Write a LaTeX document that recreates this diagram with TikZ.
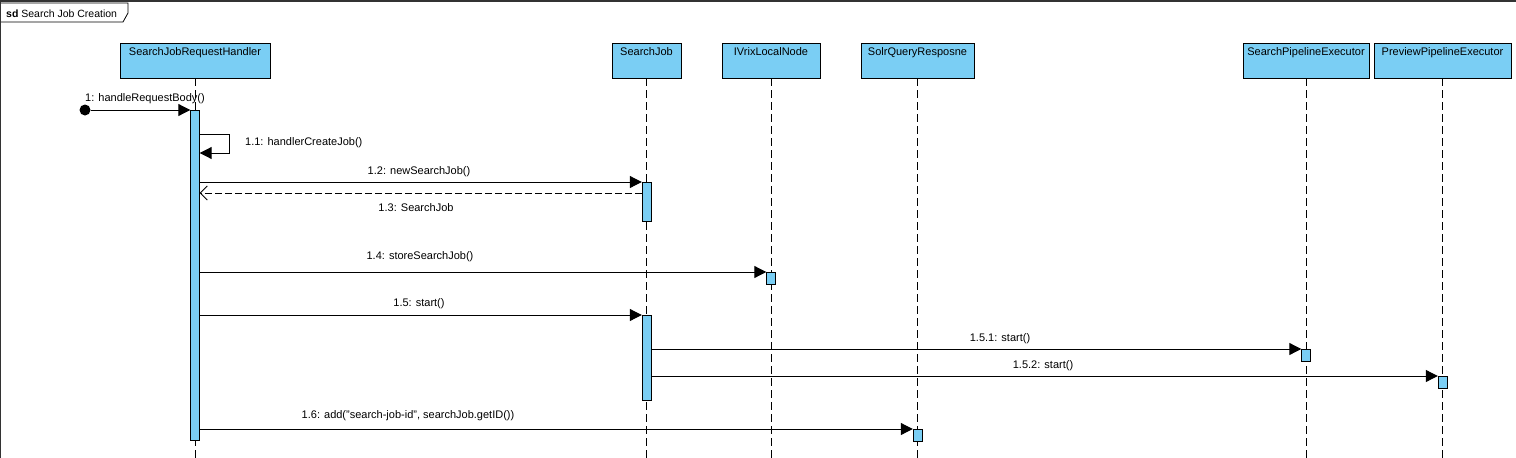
\documentclass[tikz,border=0pt]{standalone}
\usepackage{fontspec}
\setmainfont{Liberation Sans}
\usepackage{tikz}
\usetikzlibrary{arrows.meta}
\usetikzlibrary{calc}
\definecolor{lifeblue}{RGB}{122,206,244}
\tikzstyle{headblock} = [rectangle, draw, fill=lifeblue, anchor=north,
    minimum height=35pt, inner xsep=0pt, inner ysep=3pt, text height=9pt, text depth=20pt]
\tikzstyle{actblock} = [rectangle, draw, fill=lifeblue, anchor=north, minimum width=9pt, inner sep=0pt]
\tikzstyle{lifeline} = [dash pattern=on 8pt off 4pt, line width=0.8pt]
\tikzstyle{msg} = [-{Triangle[length=12pt,width=12pt]}, line width=1pt]
\tikzstyle{reply} = [-{Straight Barb[length=7pt,width=14pt]}, dash pattern=on 7pt off 3pt, line width=0.8pt]
\tikzstyle{msglabel} = [inner sep=0pt, anchor=base]

\begin{document}
\begin{tikzpicture}[x=1pt, y=-1pt, font=\fontsize{11}{13}\selectfont]
    \useasboundingbox (0,0) rectangle (1516,458);
    \coordinate (bottom) at (0,458);
    % frame
    \draw [line width=1.2pt, black!80] (0.6,458) -- (0.6,1) -- (1516,1);
    \draw [line width=0.8pt] (1,3) -- (128,3) -- (128,13) -- (123,22) -- (1,22);
    \node [anchor=base west, inner sep=0pt, font=\fontsize{10.5}{12}\selectfont] (frametab) at (6,17) {\textbf{sd} Search Job Creation};
    % lifeline heads
    \node [headblock, minimum width=150pt] (handler) at (195,43) {SearchJobRequestHandler};
    \node [headblock, minimum width=69pt] (searchjob) at (646.5,43) {SearchJob};
    \node [headblock, minimum width=98pt] (ivrix) at (771,43) {IVrixLocalNode};
    \node [headblock, minimum width=113pt] (solr) at (917.5,43) {SolrQueryResposne};
    \node [headblock, minimum width=126pt] (spe) at (1306,43) {SearchPipelineExecutor};
    \node [headblock, minimum width=137pt] (ppe) at (1442.5,43) {PreviewPipelineExecutor};
    \foreach \n in {handler, searchjob, ivrix, solr, spe, ppe}
        \draw [lifeline] (\n.south) -- (\n.south |- bottom);
    % activations
    \node [actblock, minimum height=330pt] (hact) at (handler.south |- 0,110) {};
    \node [actblock, minimum height=39pt] (sjact1) at (searchjob.south |- 0,182) {};
    \node [actblock, minimum height=12pt] (ivact) at (ivrix.south |- 0,272) {};
    \node [actblock, minimum height=85pt] (sjact2) at (searchjob.south |- 0,315) {};
    \node [actblock, minimum height=12pt] (speact) at (spe.south |- 0,349) {};
    \node [actblock, minimum height=12pt] (ppeact) at (ppe.south |- 0,376) {};
    \node [actblock, minimum height=12pt] (solract) at (solr.south |- 0,429) {};
    % Draw messages
    \node [circle, fill, inner sep=0pt, minimum size=11pt] (start) at (85,110) {};
    \draw [msg] (start) -- (hact.north west);
    \node [msglabel] (m1) at (145,101) {1: handleRequestBody()};
    \coordinate (self1) at (229,134);
    \coordinate (self2) at (229,153);
    \draw [msg] (hact.east |- self1) -- (self1) -- (self2) -- (hact.east |- self2);
    \node [msglabel, anchor=base west] (m11) at (245,145) {1.1: handlerCreateJob()};
    \draw [msg] (hact.east |- sjact1.north) -- (sjact1.north west);
    \node [msglabel] (m12) at (419,174) {1.2: newSearchJob()};
    \draw [reply] (sjact1.west |- 0,193) -- (hact.east |- 0,193);
    \node [msglabel] (m13) at (416,211) {1.3: SearchJob};
    \draw [msg] (hact.east |- ivact.north) -- (ivact.north west);
    \node [msglabel] (m14) at (420,259) {1.4: storeSearchJob()};
    \draw [msg] (hact.east |- sjact2.north) -- (sjact2.north west);
    \node [msglabel] (m15) at (419,306) {1.5: start()};
    \draw [msg] (sjact2.east |- speact.north) -- (speact.north west);
    \node [msglabel] (m151) at (1000,341) {1.5.1: start()};
    \draw [msg] (sjact2.east |- ppeact.north) -- (ppeact.north west);
    \node [msglabel] (m152) at (1043,368) {1.5.2: start()};
    \draw [msg] (hact.east |- solract.north) -- (solract.north west);
    \node [msglabel] (m16) at (408,418) {1.6: add("search-job-id", searchJob.getID())};
\end{tikzpicture}
\end{document}
